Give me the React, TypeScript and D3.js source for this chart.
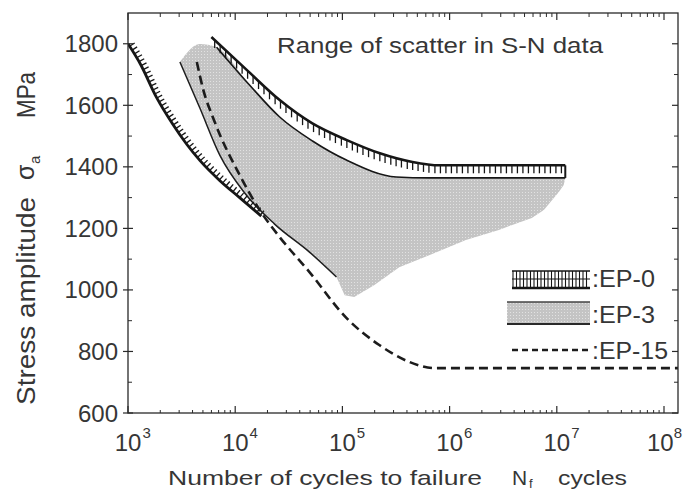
import React, { useEffect, useRef } from "react";
import * as d3 from "d3";

const W = 683;
const H = 492;

const xTickExponents = [3, 4, 5, 6, 7, 8];
const yTickValues = [600, 800, 1000, 1200, 1400, 1600, 1800];
const yMinorValues = [700, 900, 1100, 1300, 1500, 1700];
const legendLabels = [":EP-0", ":EP-3", ":EP-15"];

// low-cycle hatched band (left)
const lowBandN = [1000, 1300, 1850, 2600, 3500, 4700, 7200, 11000, 17500];
const lowBandS = [1800, 1735, 1625, 1540, 1475, 1420, 1355, 1300, 1240];

// EP-0 hatched band: upper edge
const ep0UpperN = [6000, 12800, 26000, 52000, 110000, 220000, 450000, 800000, 12000000];
const ep0UpperS = [1822, 1715, 1617, 1542, 1487, 1445, 1416, 1405, 1405];
// EP-0 hatched band: lower edge
const ep0LowerN = [6700, 13600, 26000, 52600, 109000, 318000, 645000, 12000000];
const ep0LowerS = [1789, 1666, 1562, 1484, 1422, 1367, 1364, 1364];

// EP-3 scatter region
const ep3TopN = [3050, 4680, 6700, 13600, 26000, 52600, 109000, 318000, 645000, 12000000];
const ep3TopS = [1741, 1799, 1789, 1666, 1562, 1484, 1422, 1367, 1364, 1364];
const ep3LeftN = [3050, 4680, 7180, 12250, 23300, 49300, 88000];
const ep3LeftS = [1741, 1591, 1438, 1315, 1214, 1123, 1042];
const ep3BottomN = [88000, 105000, 129000, 199000, 339000, 645000, 1420000, 2880000, 5850000, 7570000, 10450000, 11600000];
const ep3BottomS = [1042, 983, 977, 1016, 1074, 1113, 1162, 1195, 1234, 1260, 1318, 1341];

// EP-15 dashed curve
const ep15N = [4385, 4990, 6440, 11020, 16900, 25940, 49300, 108900, 220800, 420000, 718000, 135000000];
const ep15S = [1741, 1656, 1546, 1373, 1260, 1172, 1058, 909, 821, 766, 746, 746];

const FONT = "'Liberation Sans', Arial, Helvetica, sans-serif";
const TEXT = "#363636";
const INK = "#161616";

export default function App() {
  const ref = useRef<SVGSVGElement>(null);

  useEffect(() => {
    const svg = d3.select(ref.current);
    svg.selectAll("*").remove();

    const L = 128, R = 678, T = 13, B = 413;
    const x = d3.scaleLog().domain([1e3, Math.pow(10, 3 + (R - L) / 107.2)]).range([L, R]);
    const y = d3.scaleLinear().domain([600, 1900]).range([B, T]);

    const pts = (N: number[], S: number[]) => N.map((n, i) => [n, S[i]] as [number, number]);
    const line = d3
      .line<[number, number]>()
      .x((d) => x(d[0]))
      .y((d) => y(d[1]))
      .curve(d3.curveMonotoneX);

    const sample = (d: string, step = 1) => {
      const p = svg.append("path").attr("d", d).node() as SVGPathElement;
      const len = p.getTotalLength();
      const out: [number, number][] = [];
      for (let l = 0; l < len; l += step) {
        const q = p.getPointAtLength(l);
        out.push([q.x, q.y]);
      }
      const e = p.getPointAtLength(len);
      out.push([e.x, e.y]);
      p.remove();
      return out;
    };

    const defs = svg.append("defs");
    const pat = defs
      .append("pattern")
      .attr("id", "dots")
      .attr("width", 3)
      .attr("height", 3)
      .attr("patternUnits", "userSpaceOnUse");
    pat.append("rect").attr("width", 3).attr("height", 3).attr("fill", "#c4c4c4");
    pat.append("rect").attr("width", 1).attr("height", 1).attr("fill", "#e2e2e2");
    defs
      .append("clipPath")
      .attr("id", "plotclip")
      .append("rect")
      .attr("x", L)
      .attr("y", T)
      .attr("width", R - L)
      .attr("height", B - T);

    const plot = svg.append("g").attr("clip-path", "url(#plotclip)");

    // EP-3 gray region
    const topPx = sample(line(pts(ep3TopN, ep3TopS))!);
    const leftPx = sample(line(pts(ep3LeftN, ep3LeftS))!);
    const bottomPx = ep3BottomN.map((n, i) => [x(n), y(ep3BottomS[i])] as [number, number]).reverse();
    const poly = [...topPx, ...bottomPx, ...leftPx.slice().reverse()];
    plot
      .append("path")
      .attr("d", "M" + poly.map((p) => p.join(",")).join("L") + "Z")
      .attr("fill", "url(#dots)")
      .attr("stroke", "none");

    // EP-3 thin line
    plot
      .append("path")
      .attr("d", line(pts(ep3LeftN, ep3LeftS))!)
      .attr("fill", "none")
      .attr("stroke", "#1e1e1e")
      .attr("stroke-width", 1.5);

    // EP-0 band
    plot
      .append("path")
      .attr("d", line(pts(ep0LowerN, ep0LowerS))!)
      .attr("fill", "none")
      .attr("stroke", INK)
      .attr("stroke-width", 1.6);
    const upD = line(pts(ep0UpperN, ep0UpperS))!;
    const upPx = sample(upD, 0.5);
    const upTicks: [number, number][] = [];
    let nextX = upPx[0][0] + 3;
    for (const p of upPx) {
      if (p[0] >= nextX) {
        upTicks.push(p);
        nextX += 5.5;
      }
    }
    plot
      .append("g")
      .selectAll("line")
      .data(upTicks)
      .join("line")
      .attr("x1", (d) => d[0])
      .attr("x2", (d) => d[0])
      .attr("y1", (d) => d[1])
      .attr("y2", (d) => d[1] + 8)
      .attr("stroke", INK)
      .attr("stroke-width", 1.3);
    plot
      .append("path")
      .attr("d", upD)
      .attr("fill", "none")
      .attr("stroke", INK)
      .attr("stroke-width", 2.6);
    const endN = ep0UpperN[ep0UpperN.length - 1];
    plot
      .append("line")
      .attr("x1", x(endN))
      .attr("x2", x(endN))
      .attr("y1", y(ep0UpperS[ep0UpperS.length - 1]))
      .attr("y2", y(ep0LowerS[ep0LowerS.length - 1]))
      .attr("stroke", INK)
      .attr("stroke-width", 2);

    // low-cycle band with hatch
    const lowD = line(pts(lowBandN, lowBandS))!;
    const lowPx = sample(lowD, 0.5);
    const lowTicks: { p: [number, number]; n: [number, number] }[] = [];
    for (let i = 6; i < lowPx.length - 2; i += 9) {
      const a = lowPx[i], b = lowPx[i + 2];
      const tx = b[0] - a[0], ty = b[1] - a[1];
      const m = Math.hypot(tx, ty) || 1;
      lowTicks.push({ p: a, n: [ty / m, -tx / m] });
    }
    plot
      .append("g")
      .selectAll("line")
      .data(lowTicks)
      .join("line")
      .attr("x1", (d) => d.p[0])
      .attr("y1", (d) => d.p[1])
      .attr("x2", (d) => d.p[0] + d.n[0] * 6)
      .attr("y2", (d) => d.p[1] + d.n[1] * 6)
      .attr("stroke", INK)
      .attr("stroke-width", 1.3);
    plot
      .append("path")
      .attr("d", lowD)
      .attr("fill", "none")
      .attr("stroke", INK)
      .attr("stroke-width", 2.8);

    // EP-15 dashed
    plot
      .append("path")
      .attr("d", line(pts(ep15N, ep15S))!)
      .attr("fill", "none")
      .attr("stroke", "#1c1c1c")
      .attr("stroke-width", 2.6)
      .attr("stroke-dasharray", "9,5");

    // Legend
    const lg = svg.append("g");
    const lx0 = 512, lx1 = 590;
    [271, 279].forEach((yy, k) => {
      lg.append("line").attr("x1", lx0).attr("x2", lx1).attr("y1", yy).attr("y2", yy)
        .attr("stroke", INK).attr("stroke-width", k === 0 ? 1.5 : 1.2);
    });
    lg.append("line").attr("x1", lx0).attr("x2", lx1).attr("y1", 288).attr("y2", 288)
      .attr("stroke", INK).attr("stroke-width", 2.6);
    const hx = d3.range(lx0 + 1, lx1, 3.5);
    lg.append("g").selectAll("line").data(hx).join("line")
      .attr("x1", (d) => d).attr("x2", (d) => d).attr("y1", 271).attr("y2", 287)
      .attr("stroke", INK).attr("stroke-width", 1.1);
    lg.append("rect").attr("x", 507).attr("y", 302).attr("width", 83).attr("height", 22).attr("fill", "url(#dots)");
    lg.append("line").attr("x1", 507).attr("x2", 590).attr("y1", 302).attr("y2", 302)
      .attr("stroke", "#444").attr("stroke-width", 1.5);
    lg.append("line").attr("x1", 507).attr("x2", 590).attr("y1", 324).attr("y2", 324)
      .attr("stroke", "#2a2a2a").attr("stroke-width", 2);
    lg.append("line").attr("x1", lx0).attr("x2", lx1).attr("y1", 350).attr("y2", 350)
      .attr("stroke", "#1c1c1c").attr("stroke-width", 2.4).attr("stroke-dasharray", "6,4");
    const legY = [287, 323, 359];
    const legLen = [63, 63, 76];
    legendLabels.forEach((t, i) => {
      lg.append("text").attr("x", 592).attr("y", legY[i]).attr("font-size", 23)
        .attr("font-family", FONT).attr("fill", TEXT)
        .attr("textLength", legLen[i]).attr("lengthAdjust", "spacingAndGlyphs").text(t);
    });

    // Axes frame
    const ax = svg.append("g").attr("stroke", "#2a2a2a").attr("fill", "none");
    ax.append("rect").attr("x", L).attr("y", T).attr("width", R - L).attr("height", B - T).attr("stroke-width", 1.3);
    yTickValues.forEach((v) => {
      ax.append("line").attr("x1", L - 5).attr("x2", L + 5).attr("y1", y(v)).attr("y2", y(v)).attr("stroke-width", 1.2);
      ax.append("line").attr("x1", R - 6).attr("x2", R).attr("y1", y(v)).attr("y2", y(v)).attr("stroke-width", 1.2);
    });
    yMinorValues.forEach((v) => {
      ax.append("line").attr("x1", L).attr("x2", L + 4).attr("y1", y(v)).attr("y2", y(v)).attr("stroke-width", 1);
      ax.append("line").attr("x1", R - 4).attr("x2", R).attr("y1", y(v)).attr("y2", y(v)).attr("stroke-width", 1);
    });
    xTickExponents.forEach((e) => {
      const xx = x(Math.pow(10, e));
      ax.append("line").attr("x1", xx).attr("x2", xx).attr("y1", B).attr("y2", B - 7).attr("stroke-width", 1.2);
      ax.append("line").attr("x1", xx).attr("x2", xx).attr("y1", T).attr("y2", T + 7).attr("stroke-width", 1.2);
      for (let m = 2; m <= 9; m++) {
        const n = m * Math.pow(10, e);
        if (n > x.domain()[1]) continue;
        const xm = x(n);
        ax.append("line").attr("x1", xm).attr("x2", xm).attr("y1", B).attr("y2", B - 3).attr("stroke-width", 1);
        ax.append("line").attr("x1", xm).attr("x2", xm).attr("y1", T).attr("y2", T + 4).attr("stroke-width", 1);
      }
    });

    const tx = svg.append("g").attr("font-family", FONT).attr("fill", TEXT);
    yTickValues.forEach((v) => {
      tx.append("text").attr("x", 118).attr("y", y(v) + 8.5).attr("text-anchor", "end")
        .attr("font-size", 24).text(String(v));
    });
    xTickExponents.forEach((e, i) => {
      const last = i === xTickExponents.length - 1;
      const t = tx.append("text").attr("x", x(Math.pow(10, e)) - (last ? 17 : 13.3)).attr("y", 451).attr("font-size", 24);
      t.append("tspan").text("10");
      t.append("tspan").attr("dx", last ? 0 : 1).attr("dy", -13).attr("font-size", 15).text(String(e));
    });

    // Axis titles
    tx.append("text").attr("x", 168).attr("y", 485).attr("font-size", 21)
      .attr("textLength", 314).attr("lengthAdjust", "spacingAndGlyphs").text("Number of cycles to failure");
    tx.append("text").attr("x", 512).attr("y", 485).attr("font-size", 21).text("N");
    tx.append("text").attr("x", 529).attr("y", 488).attr("font-size", 13).text("f");
    tx.append("text").attr("x", 558).attr("y", 485).attr("font-size", 21)
      .attr("textLength", 69).attr("lengthAdjust", "spacingAndGlyphs").text("cycles");

    const yt = tx.append("g").attr("transform", "translate(35,405) rotate(-90)");
    yt.append("text").attr("x", 0).attr("y", 0).attr("font-size", 25)
      .attr("textLength", 208).attr("lengthAdjust", "spacingAndGlyphs").text("Stress amplitude");
    yt.append("text").attr("x", 225).attr("y", -1).attr("font-size", 25).text("σ");
    yt.append("text").attr("x", 241).attr("y", 5).attr("font-size", 15).text("a");
    yt.append("text").attr("x", 287).attr("y", 0).attr("font-size", 25)
      .attr("textLength", 46).attr("lengthAdjust", "spacingAndGlyphs").text("MPa");

    // annotation
    tx.append("text").attr("x", 277).attr("y", 53).attr("font-size", 22)
      .attr("textLength", 326).attr("lengthAdjust", "spacingAndGlyphs").text("Range of scatter in S-N data");
  }, []);

  return (
    <svg
      ref={ref}
      width={W}
      height={H}
      viewBox={`0 0 ${W} ${H}`}
      style={{ position: "absolute", left: 0, top: 0, background: "#fff" }}
    />
  );
}
